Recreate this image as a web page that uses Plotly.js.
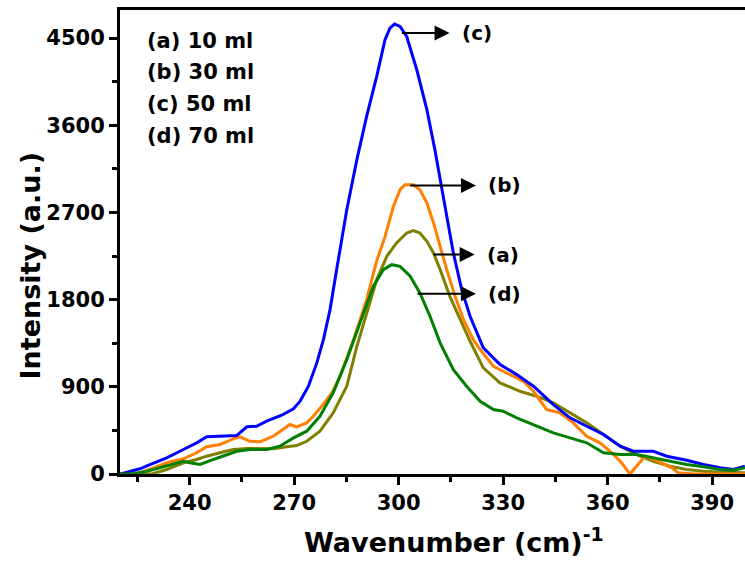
<!DOCTYPE html>
<html><head><meta charset="utf-8">
<script src="https://cdn.plot.ly/plotly-3.0.1.min.js"></script>
<style>html,body{margin:0;padding:0;overflow:hidden;background:#fff}#chart{width:750px;height:565px}</style>
</head><body><div id="chart"></div>
<script>
// (a) 10 ml
const xA = [220, 229.1, 233.4, 238.2, 242.0, 244.9, 248.7, 252.5, 256.4, 261.1, 264.0, 267.9, 270.7, 273.6, 277.4, 281.2, 285.1, 288.0, 290.8, 293.7, 296.6, 299.4, 302.3, 304.2, 306.1, 308.1, 310.0, 311.9, 314.7, 317.6, 320.5, 324.3, 329.1, 334.8, 339.6, 344.4, 349.2, 354.0, 358.8, 363.6, 368.3, 373.1, 377.9, 382.7, 387.5, 392.3, 399.4];
const yA = [0, 0, 46, 116, 150, 184, 219, 253, 263, 260, 260, 281, 294, 338, 442, 631, 906, 1318, 1663, 2007, 2247, 2385, 2488, 2512, 2488, 2402, 2282, 2110, 1834, 1594, 1370, 1096, 941, 854, 803, 735, 631, 528, 408, 287, 201, 132, 80, 46, 29, 19, 12];
// (b) 30 ml
const xB = [222, 225.7, 229.6, 233.4, 238.2, 242.0, 244.9, 248.7, 252.5, 254.5, 257.3, 260.2, 264.0, 268.8, 270.7, 273.6, 275.5, 277.9, 280.8, 283.2, 287.0, 290.8, 293.7, 296.1, 298.5, 300.4, 301.8, 304.2, 306.1, 308.1, 310.0, 311.9, 313.8, 316.2, 318.6, 321.4, 323.4, 327.2, 332.0, 335.8, 338.7, 342.5, 346.3, 350.1, 354.0, 357.8, 361.2, 364.0, 366.4, 370.7, 374.5, 378.4, 380.3, 385, 400];
const yB = [0, 12, 64, 116, 157, 219, 281, 304, 363, 384, 338, 332, 390, 511, 487, 528, 596, 699, 838, 1009, 1380, 1800, 2200, 2453, 2763, 2935, 2987, 2987, 2935, 2798, 2592, 2350, 2110, 1834, 1594, 1388, 1284, 1112, 1026, 957, 854, 665, 631, 528, 390, 322, 219, 116, 0, 184, 132, 64, 12, 0, 0];
// (c) 50 ml
const xC = [220.2, 225.7, 228.6, 233.4, 238.2, 242.0, 244.9, 253.5, 256.4, 259.2, 262.1, 266.4, 269.8, 271.7, 274.1, 276.5, 278.4, 280.3, 282.2, 285.1, 288.0, 290.8, 293.7, 296.1, 297.5, 298.8, 300.4, 302.3, 305.2, 308.1, 310.4, 312.8, 315.7, 318.1, 320.5, 324.3, 329.1, 333.9, 338.7, 344.4, 349.2, 354.0, 358.8, 363.6, 367.4, 373.1, 377.0, 382.7, 387.5, 392.3, 396.1, 399.4];
const yC = [0, 54, 98, 167, 253, 322, 384, 397, 487, 493, 545, 607, 673, 751, 906, 1147, 1388, 1697, 2110, 2729, 3245, 3691, 4104, 4485, 4603, 4645, 4620, 4517, 4173, 3761, 3348, 2850, 2282, 1903, 1628, 1302, 1130, 1026, 906, 717, 580, 493, 408, 287, 235, 235, 184, 142, 98, 64, 46, 80];
// (d) 70 ml
const xD = [220, 223.8, 227.7, 231.5, 234.4, 238.2, 240.1, 243.0, 246.8, 250.6, 253.5, 257.3, 262.1, 265.9, 269.8, 273.6, 277.4, 281.2, 285.1, 288.9, 292.7, 295.6, 298.0, 300.4, 303.3, 306.1, 309.0, 311.9, 315.7, 319.5, 323.4, 327.2, 330.0, 333.9, 339.6, 344.4, 349.2, 354.0, 358.8, 363.6, 368.3, 373.1, 377.9, 382.7, 387.5, 392.3, 396.1, 399.4];
const yD = [0, 0, 29, 64, 98, 132, 116, 98, 150, 201, 235, 253, 253, 287, 373, 442, 596, 838, 1181, 1560, 1937, 2110, 2161, 2144, 2041, 1869, 1628, 1354, 1078, 906, 751, 665, 648, 580, 493, 425, 373, 322, 219, 201, 201, 167, 132, 98, 74, 46, 39, 64];

const seriesNames = ['(a) 10 ml', '(b) 30 ml', '(c) 50 ml', '(d) 70 ml'];
const peakLabels = ['(a)', '(b)', '(c)', '(d)'];
const yTicks = [0, 900, 1800, 2700, 3600, 4500];
const xTicks = [240, 270, 300, 330, 360, 390];

const colors = ['#808000', '#ff8000', '#0000ff', '#008000'];
const F = 'DejaVu Sans, Arial, sans-serif';

const xs = [xA, xB, xC, xD], ys = [yA, yB, yC, yD];
const traces = xs.map((x, i) => ({
  x: x, y: ys[i], type: 'scatter', mode: 'lines', name: seriesNames[i],
  line: {color: colors[i], width: 3, shape: 'linear'}, hoverinfo: 'x+y'
}));

// arrow geometry (data coords): tail x near the peak, label x, y level
const arrows = [
  {tx: 310.0, y: 2265, lx: 330.0},
  {tx: 303.3, y: 2979, lx: 330.5},
  {tx: 300.9, y: 4552, lx: 322.5},
  {tx: 305.4, y: 1862, lx: 330.5}
];
const ann = [];
arrows.forEach((a, i) => {
  ann.push({x: a.tx, y: a.y, ax: a.lx, ay: a.y, axref: 'x', ayref: 'y', xref: 'x', yref: 'y',
    text: peakLabels[i], showarrow: true, arrowside: 'start', startarrowhead: 2, startarrowsize: 1.5,
    arrowhead: 2, arrowsize: 1.5, arrowwidth: 2, arrowcolor: '#000', standoff: 0, startstandoff: 11,
    font: {family: F, size: 20, color: '#000', weight: 'bold'}});
});
const legY = [4465, 4145, 3819, 3492];
seriesNames.forEach((s, i) => ann.push({x: 0.04, xref: 'paper', y: legY[i], yref: 'y', text: s, showarrow: false,
  xanchor: 'left', yanchor: 'middle', font: {family: F, size: 21, color: '#000', weight: 'bold'}}));
ann.push({x: 0.533, xref: 'paper', y: -0.143, yref: 'paper', text: 'Wavenumber (cm)<sup>-1</sup>', showarrow: false,
  xanchor: 'center', yanchor: 'middle', font: {family: F, size: 27, color: '#000', weight: 'bold'}});
ann.push({x: -0.143, xref: 'paper', y: 0.45, yref: 'paper', text: 'Intensity (a.u.)', textangle: -90, showarrow: false,
  xanchor: 'center', yanchor: 'middle', font: {family: F, size: 27, color: '#000', weight: 'bold'}});

const layout = {
  width: 750, height: 565,
  margin: {l: 120, r: 3, t: 10, b: 90.5},
  paper_bgcolor: '#fff', plot_bgcolor: '#fff',
  showlegend: false,
  font: {family: F, color: '#000'},
  xaxis: {range: [220, 400], tickvals: xTicks, ticktext: xTicks.map(String), ticks: 'outside', ticklen: 8, tickwidth: 3,
    tickcolor: '#000', showline: true, linecolor: '#000', linewidth: 3, mirror: true, showgrid: false, zeroline: false,
    tickfont: {family: F, size: 21, color: '#000', weight: 'bold'},
    minor: {tickvals: [225, 255, 285, 315, 345, 375], ticks: 'outside', ticklen: 5, tickwidth: 3, tickcolor: '#000', showgrid: false}},
  yaxis: {range: [0, 4790], tickvals: yTicks, ticktext: yTicks.map(String), ticks: 'outside', ticklen: 8, tickwidth: 3,
    tickcolor: '#000', showline: true, linecolor: '#000', linewidth: 3, mirror: true, showgrid: false, zeroline: false,
    tickfont: {family: F, size: 21, color: '#000', weight: 'bold'},
    minor: {tickvals: [450, 1350, 2250, 3150, 4050], ticks: 'outside', ticklen: 5, tickwidth: 3, tickcolor: '#000', showgrid: false}},
  annotations: ann
};
Plotly.newPlot('chart', traces, layout, {displayModeBar: false, staticPlot: true});
</script></body></html>
